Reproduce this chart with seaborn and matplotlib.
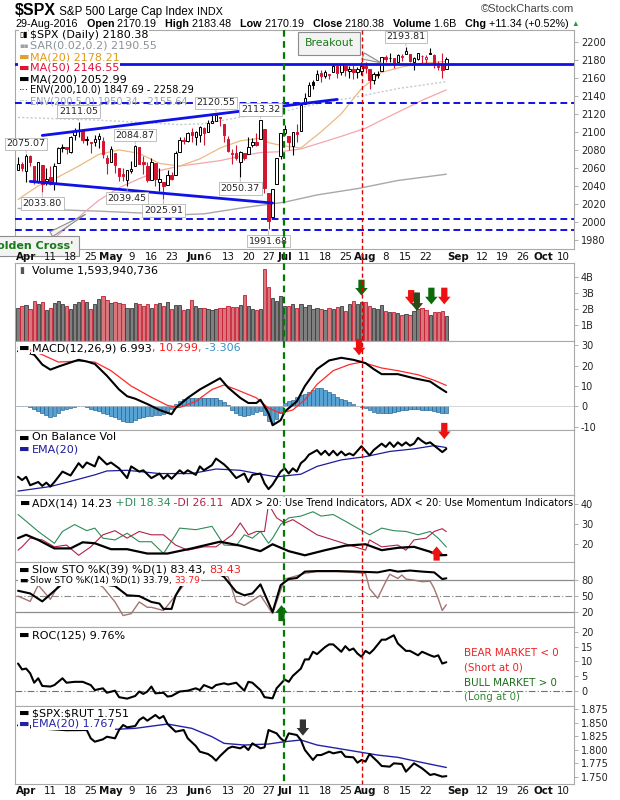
import numpy as np
import pandas as pd
import matplotlib
matplotlib.use("Agg")
import matplotlib.pyplot as plt
import matplotlib.transforms as mtransforms
from matplotlib.lines import Line2D
import seaborn as sns

# ---------------- data ----------------
first_session = "2016-03-30"
axis_end = "2016-10-14"
market_holidays = ["2016-05-30", "2016-07-04", "2016-09-05"]

close_before_first = 2055.01
opens = [2058, 2064, 2056.6, 2073, 2062, 2045, 2063, 2045, 2050, 2043,
         2065, 2082, 2083, 2078, 2096, 2101, 2102, 2091, 2089, 2089,
         2092, 2090, 2071, 2067, 2077, 2060, 2053, 2047, 2057, 2062,
         2083, 2067, 2062, 2047, 2065, 2044, 2044, 2041, 2052, 2052,
         2078, 2091, 2090, 2100, 2094, 2097, 2104, 2100, 2110, 2112,
         2116, 2109, 2092, 2077, 2077, 2066, 2077, 2075, 2085, 2089,
         2092, 2103, 2032, 2006, 2042, 2073, 2099, 2095, 2084, 2100,
         2101, 2131, 2140, 2155, 2157, 2165, 2162, 2163, 2166, 2173,
         2166, 2173, 2168, 2170, 2166, 2168, 2173, 2170, 2157, 2163,
         2168, 2183, 2182, 2182, 2177, 2183, 2186, 2186, 2177, 2181,
         2184, 2181, 2187, 2185, 2173, 2175, 2170.19]
highs = [2072, 2067, 2075.07, 2074, 2062, 2067, 2063, 2060, 2062, 2065,
         2083, 2087, 2083, 2095, 2104, 2111.05, 2103, 2095, 2089, 2097,
         2099, 2094, 2074, 2084, 2077, 2060, 2060, 2058, 2068, 2084.87,
         2083, 2073, 2067, 2071, 2065, 2060, 2044, 2058, 2055, 2079,
         2094, 2094, 2099.7, 2104, 2101, 2106, 2105, 2113, 2119, 2120.55,
         2117, 2109, 2095, 2081, 2085, 2079, 2077, 2094, 2093, 2099,
         2113.32, 2103, 2032, 2036.5, 2071, 2098.9, 2108, 2095, 2100, 2109,
         2131, 2143, 2155, 2157, 2169, 2169, 2169, 2164, 2175, 2174,
         2175.5, 2174, 2173, 2174, 2172, 2177, 2178, 2170, 2166, 2168,
         2183, 2185, 2187, 2182, 2186, 2186, 2193.81, 2186, 2183, 2188,
         2185, 2185, 2193, 2186, 2179, 2187, 2183.48]
lows = [2058, 2057, 2043.98, 2062, 2042.5, 2043, 2033.80, 2041, 2041, 2036,
        2065, 2078, 2075, 2076, 2091, 2094, 2088, 2085, 2077, 2084,
        2082, 2071, 2053, 2067, 2054, 2045, 2045, 2039.45, 2054, 2062,
        2064, 2053, 2044, 2047, 2040, 2034, 2025.91, 2041, 2047, 2052,
        2078, 2087, 2089, 2089, 2085, 2089, 2085, 2100, 2110, 2112,
        2107, 2089, 2078, 2064, 2069, 2050.37, 2069, 2075, 2083, 2084,
        2092, 2032, 1991.68, 2006, 2042, 2070, 2097, 2080, 2074, 2089,
        2101, 2131, 2140, 2148, 2157, 2155, 2160, 2159, 2166, 2160,
        2163, 2162, 2160, 2159, 2160, 2163, 2165, 2147, 2153, 2160,
        2168, 2177, 2178, 2171, 2177, 2179, 2186, 2178, 2169, 2180,
        2175, 2175, 2186, 2171, 2169, 2160, 2170.19]
closes = [2063.95, 2059.74, 2072.78, 2066.13, 2045.17, 2066.66, 2041.91, 2047.60, 2041.99, 2061.72,
          2082.42, 2082.78, 2080.73, 2094.34, 2100.80, 2102.40, 2091.48, 2091.58, 2087.79, 2091.70,
          2095.15, 2075.81, 2065.30, 2081.43, 2063.37, 2051.12, 2050.63, 2057.14, 2058.69, 2084.39,
          2064.46, 2064.11, 2046.61, 2066.66, 2047.21, 2047.63, 2040.04, 2052.32, 2048.04, 2076.06,
          2090.54, 2090.10, 2099.06, 2096.95, 2099.33, 2105.26, 2099.13, 2109.41, 2112.13, 2119.12,
          2115.48, 2096.07, 2079.06, 2075.32, 2071.50, 2077.99, 2071.22, 2083.25, 2088.90, 2085.45,
          2113.32, 2037.41, 2000.54, 2036.09, 2070.77, 2098.86, 2102.95, 2088.55, 2099.73, 2097.90,
          2129.90, 2137.16, 2152.14, 2152.43, 2163.75, 2161.74, 2166.89, 2163.78, 2173.02, 2165.17,
          2175.03, 2168.48, 2169.18, 2166.58, 2170.06, 2173.60, 2170.84, 2157.03, 2163.79, 2164.25,
          2182.87, 2180.89, 2181.74, 2175.49, 2185.79, 2184.05, 2190.15, 2178.15, 2182.22, 2187.02,
          2183.87, 2182.64, 2186.90, 2175.44, 2172.47, 2169.04, 2180.38]
volume_bn = [2.10, 2.20, 2.28, 1.98, 2.50, 2.30, 2.48, 1.95, 2.05, 2.40,
             2.50, 2.30, 2.20, 2.02, 2.35, 2.45, 2.55, 2.45, 2.02, 2.35,
             2.65, 2.85, 2.55, 2.40, 2.45, 2.40, 2.35, 2.10, 2.05, 2.40,
             2.30, 2.20, 2.30, 2.05, 2.35, 2.40, 2.20, 2.45, 2.00, 2.25,
             2.25, 1.95, 2.00, 2.60, 2.20, 2.05, 2.05, 2.00, 1.95, 2.00,
             2.05, 2.10, 2.20, 2.15, 2.15, 2.25, 2.90, 2.20, 2.00, 1.95,
             2.00, 4.55, 3.40, 2.70, 2.50, 2.85, 2.20, 2.20, 2.35, 2.10,
             2.30, 2.15, 2.25, 2.00, 2.10, 2.00, 1.95, 2.10, 2.00, 2.15,
             2.20, 1.90, 2.35, 2.50, 2.30, 2.45, 2.45, 2.20, 2.10, 2.00,
             2.25, 1.90, 1.80, 1.80, 1.75, 1.65, 1.70, 1.65, 1.90, 2.00,
             2.05, 1.95, 1.65, 1.80, 1.80, 1.90, 1.60]
macd_hist = [0.3, 0.2, 0.0, -0.5, -1.3, -2.3, -3.3, -4.2, -5.0, -4.6,
             -3.0, -1.8, -1.0, -0.6, -0.2, 0.3, 0.0, -0.5, -1.0, -1.5,
             -2.2, -3.0, -3.7, -4.5, -5.3, -6.0, -7.2, -7.5, -7.5, -6.8,
             -5.5, -5.0, -4.6, -4.5, -4.2, -4.0, -3.6, -3.0, -1.0, 1.0,
             2.5, 3.5, 4.0, 4.0, 4.0, 4.1, 4.0, 4.0, 4.1, 4.0,
             3.2, 2.0, 0.5, -1.5, -3.0, -4.3, -4.5, -4.3, -3.6, -2.8,
             -2.0, -4.0, -7.0, -8.0, -6.0, -3.0, 1.5, 2.5, 3.0, 4.5,
             5.5, 6.2, 7.0, 8.0, 9.0, 8.8, 8.0, 7.0, 6.0, 4.8,
             3.7, 3.0, 2.3, 1.0, 0.0, -0.4, -0.8, -1.8, -2.5, -3.0,
             -3.3, -3.2, -3.0, -2.5, -2.0, -1.8, -1.5, -1.3, -1.2, -1.4,
             -1.5, -1.5, -1.6, -2.2, -2.6, -3.1, -3.306]

ma20_pts = [(0, 2025), (5, 2040), (10, 2050), (15, 2062), (20, 2075), (25, 2080), (30, 2076),
            (35, 2065), (40, 2062), (45, 2070), (50, 2082), (55, 2090), (60, 2093), (62, 2088),
            (65, 2085), (70, 2082), (75, 2100), (80, 2120), (85, 2148), (90, 2166), (95, 2172),
            (100, 2176), (106, 2178.21)]
ma50_pts = [(0, 1975), (9, 1982), (17, 2013), (20, 2024), (25, 2038), (30, 2048), (35, 2057),
            (40, 2062), (45, 2065), (50, 2068), (55, 2073), (60, 2077), (65, 2078), (70, 2081),
            (75, 2088), (80, 2095), (86, 2104), (90, 2113), (95, 2124), (100, 2135), (106, 2146.55)]
ma200_pts = [(0, 2015), (20, 2012), (30, 2010), (40, 2008), (46, 2009), (56, 2016), (66, 2022),
             (74, 2030), (84, 2037), (94, 2046), (106, 2052.99)]
env5_upper_pts = [(0, 2116), (20, 2113), (40, 2108), (46, 2109), (56, 2117), (66, 2123),
                  (74, 2131), (84, 2139), (94, 2148), (106, 2155.64)]

macd_pts = [(0, 27), (2, 26.5), (4, 25.3), (6, 20.5), (8, 18), (10, 19.5), (13, 21.5), (15, 22.8),
            (17, 22), (19, 20.8), (22, 15), (25, 8.3), (27, 5), (29, 3.8), (32, 1.2), (35, -1.7),
            (38, -3.8), (39, -0.8), (42, 4.2), (45, 8.3), (47, 10.5), (50, 13.8), (52, 9.2),
            (55, 4.2), (57, 1.7), (59, 1.7), (60, 3.3), (62, -3.3), (63, -9.2), (65, -6.7),
            (66, -2.5), (69, 2.5), (71, 10), (74, 18.3), (77, 22.5), (80, 23.8), (83, 22.8),
            (86, 21.2), (88, 18.3), (90, 15.8), (94, 15.8), (98, 13.8), (102, 12.2), (104, 9.5),
            (106, 6.993)]
signal_pts = [(0, 28.5), (2, 28), (4, 27), (6, 25.3), (10, 21.7), (15, 22.2), (19, 21.7),
              (23, 17.5), (28, 10), (33, 4.5), (37, 0.5), (40, -0.5), (44, 2.5), (48, 8.3),
              (51, 10.5), (54, 8.3), (59, 4.2), (62, -0.8), (65, -3.3), (68, -1.7), (71, 3.3),
              (74, 10.8), (78, 17.5), (82, 20.5), (85, 21.7), (90, 18.8), (94, 17.5), (99, 15.5),
              (103, 12.8), (106, 10.299)]

obv_pts = [(0, 28), (1, 23), (2, 28), (3, 15), (5, 20), (6, 14), (7, 19), (8, 13), (9, 20),
           (11, 36), (13, 30), (15, 49), (16, 42), (17, 50), (19, 44), (20, 59), (22, 47),
           (23, 50), (25, 41), (27, 26), (28, 44), (30, 36), (31, 38), (33, 26), (35, 33),
           (36, 25), (37, 31), (38, 25), (40, 38), (41, 33), (42, 38), (44, 31), (45, 44),
           (46, 38), (48, 46), (49, 56), (51, 47), (52, 41), (54, 26), (56, 33), (57, 20),
           (58, 31), (60, 33), (61, 18), (62, 9), (63, 16), (64, 26), (65, 36), (66, 41),
           (67, 33), (68, 41), (69, 36), (70, 49), (71, 54), (72, 62), (74, 69), (75, 62),
           (76, 68), (77, 61), (78, 68), (79, 61), (80, 67), (81, 61), (82, 64), (83, 61),
           (84, 68), (85, 75), (87, 61), (88, 69), (90, 79), (91, 74), (92, 81), (93, 74),
           (94, 81), (95, 76), (96, 81), (97, 76), (98, 79), (99, 88), (100, 83), (101, 79),
           (102, 81), (103, 76), (104, 71), (105, 66), (106, 71)]
obv_ema_pts = [(0, 6), (8, 13), (13, 21), (19, 31), (22, 37), (27, 38), (35, 33), (43, 33),
               (49, 40), (55, 38), (60, 32), (64, 28), (70, 32), (74, 44), (80, 54), (86, 59),
               (92, 67), (98, 71), (103, 76), (106, 73)]

adx_pts = [(0, 22.8), (2, 24.5), (5, 21.9), (9, 17.6), (13, 17.6), (16, 20.7), (19, 20.2),
           (23, 17.2), (27, 17.2), (32, 15), (37, 15), (43, 17.6), (50, 21), (55, 19), (60, 16.2),
           (63, 19.7), (67, 16.2), (71, 14.1), (76, 16.7), (81, 19), (86, 19.7), (90, 16.7),
           (94, 17.9), (98, 18.4), (102, 15.9), (104, 14.1), (106, 14.23)]
plus_di_pts = [(0, 34.8), (2, 31.4), (5, 26.2), (9, 20.2), (11, 26.2), (14, 29.7), (17, 26.6),
               (19, 27.9), (21, 22.8), (24, 21.9), (27, 25.3), (30, 21), (33, 21), (36, 15),
               (39, 24.5), (40, 27.9), (44, 27.1), (48, 28.8), (51, 19.3), (54, 19), (56, 24.5),
               (58, 22.8), (60, 26.2), (62, 20.2), (63, 22.8), (65, 29.7), (67, 33.1), (70, 34),
               (73, 36.2), (75, 34), (78, 34.8), (81, 31.4), (84, 27.9), (87, 24.5), (90, 27.9),
               (93, 26.6), (96, 26.2), (99, 24.5), (102, 26.2), (104, 22.8), (106, 18.34)]
minus_di_pts = [(0, 16.7), (1, 18.4), (3, 22.8), (6, 21.9), (9, 18.4), (12, 19.3), (15, 14.1),
                (18, 18.4), (21, 24.5), (24, 26.6), (27, 22.8), (30, 26.2), (33, 24.5), (36, 24.5),
                (39, 19.3), (42, 16.7), (46, 18.4), (49, 18.4), (53, 24.5), (55, 30.5), (57, 24.5),
                (59, 26.2), (61, 26.2), (62, 40), (64, 33.1), (66, 30.5), (68, 32.2), (70, 29.7),
                (74, 24.5), (78, 21.9), (82, 19.3), (86, 16.7), (87, 21.9), (90, 18.4), (94, 19.3),
                (96, 16.7), (98, 21.9), (101, 22.8), (103, 26.2), (105, 27.6), (106, 26.11)]

sto39_pts = [(0, 60), (3, 55), (6, 40), (9, 60), (12, 80), (15, 92), (18, 85), (21, 72), (24, 69),
             (27, 51.5), (30, 50), (33, 39), (35, 36), (36, 26), (38, 26), (39, 51), (41, 77),
             (44, 90), (47, 92), (49, 95), (51, 86), (54, 58), (56, 51.5), (58, 55), (60, 72),
             (63, 20), (65, 70.5), (67, 82), (69, 84), (71, 96), (74, 97), (79, 97), (84, 96),
             (89, 94.5), (92, 99), (94, 96), (97, 98), (100, 96), (103, 94.5), (105, 82),
             (106, 83.43)]
sto14_pts = [(0, 50), (3, 40), (5, 70.5), (8, 44), (10, 70.5), (13, 85), (16, 90), (19, 75),
             (21, 67), (24, 39), (26, 13.5), (28, 17), (30, 39), (32, 29), (33, 29), (36, 23),
             (39, 51), (41, 70.5), (44, 90), (47, 95), (50, 92), (52, 86), (54, 39), (56, 32.5),
             (58, 42), (60, 51.5), (63, 17), (65, 61), (66, 82), (68, 86), (71, 92.7), (74, 96),
             (79, 96), (83, 94.5), (86, 92.7), (87, 64), (89, 46), (91, 77), (92, 91), (94, 83),
             (95, 89.5), (96, 82), (98, 80), (100, 77), (102, 78), (103, 64), (104, 45),
             (105, 23), (106, 33.79)]

roc_pts = [(0, 9.3), (1, 7.3), (2, 7.6), (3, 6.0), (4, 2.8), (5, 4.3), (6, 1.7), (8, 1.5),
           (9, 2.0), (11, 4.3), (12, 2.8), (14, 3.1), (16, 3.1), (18, 2.0), (19, 0.3), (21, 0.9),
           (22, -0.6), (24, 0.1), (25, -2.1), (27, -2.6), (29, -1.7), (30, -0.2), (31, -1.0),
           (32, -0.2), (33, 1.5), (34, -0.8), (36, -0.6), (37, -1.9), (38, -1.7), (40, -0.2),
           (42, 0.1), (44, 0.9), (45, 0.3), (46, 2.0), (48, 0.9), (49, 2.0), (51, 2.6), (52, 2.2),
           (54, 2.8), (56, 0.1), (57, 3.1), (58, 2.8), (60, 0.3), (61, -2.1), (63, -2.5), (64, 0.9),
           (66, 3.9), (67, 3.1), (68, 5.1), (70, 7.6), (71, 10.7), (72, 10.7), (73, 13.3),
           (74, 12.5), (76, 14.9), (77, 15.8), (78, 15.8), (80, 13.3), (81, 15.2), (82, 13.8),
           (83, 14.4), (84, 12.7), (85, 11.6), (86, 13.6), (87, 12.7), (88, 14.0), (90, 17.4),
           (91, 17.4), (93, 18.9), (94, 16.1), (96, 13.6), (97, 13.6), (99, 12.1), (100, 13.3),
           (102, 12.1), (103, 11.6), (104, 12.1), (105, 9.3), (106, 9.76)]

ratio_pts = [(0, 1.845), (4, 1.840), (8, 1.838), (12, 1.836), (17, 1.8364), (18, 1.821),
             (19, 1.8148), (21, 1.8191), (22, 1.824), (24, 1.821), (25, 1.8364), (26, 1.8457),
             (27, 1.8414), (29, 1.8438), (30, 1.855), (31, 1.8599), (32, 1.8537), (34, 1.8642),
             (35, 1.858), (36, 1.8623), (37, 1.8475), (39, 1.8333), (41, 1.8364), (42, 1.821),
             (44, 1.8068), (45, 1.7963), (47, 1.792), (48, 1.787), (49, 1.7796), (50, 1.7883),
             (52, 1.8025), (53, 1.8056), (55, 1.8025), (56, 1.8068), (57, 1.7994), (58, 1.8117),
             (60, 1.8025), (61, 1.8043), (62, 1.8364), (64, 1.8302), (65, 1.821), (66, 1.8148),
             (67, 1.8302), (69, 1.8272), (70, 1.8179), (71, 1.7994), (73, 1.7809), (74, 1.79),
             (75, 1.79), (77, 1.7963), (78, 1.7932), (80, 1.7963), (81, 1.787), (83, 1.7858),
             (84, 1.7759), (85, 1.7809), (86, 1.7778), (87, 1.792), (89, 1.7778), (90, 1.7698),
             (92, 1.7685), (93, 1.7747), (95, 1.7735), (96, 1.7593), (98, 1.7747), (100, 1.7654),
             (101, 1.7593), (102, 1.7531), (103, 1.7549), (105, 1.75), (106, 1.751)]
ratio_ema_pts = [(0, 1.845), (10, 1.843), (19, 1.8426), (24, 1.8377), (29, 1.8395), (37, 1.8475),
                 (43, 1.8395), (48, 1.824), (51, 1.8117), (56, 1.8086), (62, 1.8105), (66, 1.8148),
                 (70, 1.8179), (74, 1.8086), (79, 1.8025), (84, 1.7963), (89, 1.79), (94, 1.7858),
                 (99, 1.7778), (103, 1.7716), (106, 1.767)]

peak_days = [2, 15, 29, 49, 60, 96]
trough_days = [6, 27, 36, 55, 62]
hline_prices = [2175, 2132, 2003, 1991.5]
hline_dashed = [False, True, True, True]
trend_up_days, trend_up_prices = [6, 79], [2096, 2136]
trend_dn_days, trend_dn_prices = [3, 63], [2045, 2021]
event_days = [65.8, 85.2]
event_colors = ["#007a00", "#e00000"]

# signal arrows: panel, day, tail value, tip value, colour
arrow_panel = ["vol", "vol", "vol", "vol", "vol", "macd", "obv", "adx", "sto", "ratio"]
arrow_day = [85, 97.3, 98.7, 102.3, 105.5, 84.4, 105.5, 103.6, 65.2, 70.5]
arrow_tail = [3.85, 3.2, 3.05, 3.35, 3.35, 33.0, 111, 11.4, 3.0, 1.856]
arrow_tip = [2.85, 2.3, 1.9, 2.3, 2.3, 25.0, 86, 18.6, 33.0, 1.826]
arrow_color = ["#0b6b0b", "#ee1111", "#2a4a1a", "#0b6b0b", "#ee1111", "#ee1111",
               "#ee1111", "#ee1111", "#0b6b0b", "#333333"]

# ---------------- figure ----------------
sns.set_theme(style="white")
plt.rcParams["font.family"] = ["DejaVu Sans"]
plt.rcParams["axes.unicode_minus"] = False

W, H = 620, 800
fig = plt.figure(figsize=(W / 100, H / 100), dpi=100)
fig.patch.set_facecolor("white")


def fx(px):
    return px / W


def fy(py):
    return 1 - py / H


LEFT, RIGHT = 15, 574
RED = "#d3162f"
TFS = 7.0     # tick labels
LFS = 8.0     # panel legends


def make_panel(top, bottom, share=None):
    ax = fig.add_axes([fx(LEFT), fy(bottom), (RIGHT - LEFT) / W, (bottom - top) / H], sharex=share)
    ax.set_facecolor("white")
    for sp in ax.spines.values():
        sp.set_color("#a9a9a9")
        sp.set_linewidth(0.8)
    ax.yaxis.tick_right()
    ax.tick_params(axis="y", labelsize=TFS, length=3, width=0.6, color="#a0a0a0", pad=2,
                   labelcolor="#222222", right=True, left=False)
    ax.tick_params(axis="x", bottom=False, labelbottom=False)
    ax.grid(False)
    return ax


def line(ax, pts, color, lw, **kw):
    d, v = zip(*pts)
    sns.lineplot(x=list(d), y=list(v), ax=ax, color=color, linewidth=lw, legend=False, **kw)


ax_p = make_panel(30, 249)
ax_v = make_panel(263, 341, ax_p)
ax_m = make_panel(341, 430, ax_p)
ax_o = make_panel(430, 495, ax_p)
ax_a = make_panel(495, 562, ax_p)
ax_s = make_panel(562, 627, ax_p)
ax_r = make_panel(627, 706, ax_p)
ax_q = make_panel(706, 784, ax_p)
panels = {"vol": ax_v, "macd": ax_m, "obv": ax_o, "adx": ax_a, "sto": ax_s, "ratio": ax_q}

days = np.arange(len(closes))
prev = [close_before_first] + closes[:-1]
up_day = [c >= p for c, p in zip(closes, prev)]

# ---- price panel ----
line(ax_p, env5_upper_pts, "#c4cad2", 1.0, linestyle=(0, (1.5, 1.5)))
line(ax_p, ma200_pts, "#a8a8a8", 1.0)
line(ax_p, ma50_pts, "#f2a6ae", 0.9)
line(ax_p, ma20_pts, "#eabb80", 0.9)
cols = ["#000000" if u else RED for u in up_day]
faces = ["white" if c >= o else col for o, c, col in zip(opens, closes, cols)]
body_lo = [min(o, c) for o, c in zip(opens, closes)]
body_h = [max(abs(c - o), 0.5) for o, c in zip(opens, closes)]
ax_p.vlines(days, lows, highs, colors=cols, lw=0.8, zorder=3)
ax_p.bar(days, body_h, bottom=body_lo, width=0.62, color=faces, edgecolor=cols, linewidth=0.7, zorder=4)
for pr, dashed in zip(hline_prices, hline_dashed):
    ax_p.axhline(pr, color="#1010e8", lw=1.4 if dashed else 2.0,
                 linestyle=(0, (3.5, 2)) if dashed else "-", zorder=5)
sns.lineplot(x=trend_up_days, y=trend_up_prices, ax=ax_p, color="#1010e8", linewidth=2.0, zorder=5)
sns.lineplot(x=trend_dn_days, y=trend_dn_prices, ax=ax_p, color="#1010e8", linewidth=2.0, zorder=5)
ax_p.set_ylim(1970, 2213)
ax_p.set_yticks(range(1980, 2201, 20))

lab_box = dict(boxstyle="square,pad=0.18", fc="white", ec="#b4b4b4", lw=0.6)
for d in peak_days:
    ax_p.annotate(f"{highs[d]:.2f}", xy=(d, highs[d]), xytext=(0, 7.5), textcoords="offset points",
                  ha="center", va="center", fontsize=6.8, bbox=lab_box, zorder=6,
                  arrowprops=dict(arrowstyle="-", color="#b4b4b4", lw=0.6, shrinkA=0, shrinkB=1))
for d in trough_days:
    ax_p.annotate(f"{lows[d]:.2f}", xy=(d, lows[d]), xytext=(0, -8.5), textcoords="offset points",
                  ha="center", va="center", fontsize=6.8, bbox=lab_box, zorder=6,
                  arrowprops=dict(arrowstyle="-", color="#b4b4b4", lw=0.6, shrinkA=0, shrinkB=1))

ax_p.annotate("Breakout", xy=(90.5, 2175.5), xytext=(77.0, 2198.5), textcoords="data",
              ha="center", va="center", fontsize=7.8, color="#167a16", zorder=7,
              bbox=dict(boxstyle="square,pad=0.6", fc="#f3f3f3", ec="#8c8c8c", lw=0.8),
              arrowprops=dict(arrowstyle="wedge,tail_width=0.6,shrink_factor=0.5", fc="#f3f3f3",
                              ec="#8c8c8c", lw=0.8))
ax_p.annotate("Golden Cross'", xy=(17.3, 2010), xytext=(31, H - 246), textcoords="figure pixels",
              ha="center", va="center", fontsize=8.0, fontweight="bold", color="#167a16", zorder=7,
              annotation_clip=False,
              bbox=dict(boxstyle="square,pad=0.45", fc="#f3f3f3", ec="#8c8c8c", lw=0.8),
              arrowprops=dict(arrowstyle="wedge,tail_width=0.5,shrink_factor=0.5", fc="#f3f3f3",
                              ec="#8c8c8c", lw=0.8))

# ---- volume ----
vface = ["#7f7f7f" if u else "#d9767c" for u in up_day]
vedge = ["#3c3c3c" if u else "#c41c34" for u in up_day]
ax_v.bar(days, volume_bn, width=0.82, color=vface, edgecolor=vedge, linewidth=0.6)
ax_v.set_ylim(0, 4.9)
ax_v.set_yticks([1, 2, 3, 4])
ax_v.set_yticklabels(["1B", "2B", "3B", "4B"])

# ---- MACD ----
ax_m.bar(days, macd_hist, width=0.92, color="#56a3d4", edgecolor="#1f5f8e", linewidth=0.45)
ax_m.axhline(0, color="#c8c8c8", lw=0.5)
line(ax_m, signal_pts, "#ff2a2a", 0.9)
line(ax_m, macd_pts, "#000000", 1.5)
ax_m.set_ylim(-11.5, 32)
ax_m.set_yticks([-10, 0, 10, 20, 30])

# ---- OBV ----
line(ax_o, obv_ema_pts, "#1c1c9c", 0.9)
line(ax_o, obv_pts, "#000000", 1.5)
ax_o.set_ylim(0, 100)
ax_o.set_yticks([])

# ---- ADX ----
line(ax_a, plus_di_pts, "#2e8b57", 0.8)
line(ax_a, minus_di_pts, "#b22248", 0.8)
line(ax_a, adx_pts, "#000000", 1.6)
ax_a.set_ylim(10.7, 44.7)
ax_a.set_yticks([20, 30, 40])

# ---- Stochastics ----
for lvl in (80, 20):
    ax_s.axhline(lvl, color="#8c8c8c", lw=0.9)
ax_s.axhline(50, color="#8c8c8c", lw=0.8, linestyle=(0, (6, 2, 1, 2)))
line(ax_s, sto14_pts, "#a47572", 1.0)
line(ax_s, sto39_pts, "#000000", 1.5)
ax_s.set_ylim(-8, 114)
ax_s.set_yticks([20, 50, 80])

# ---- ROC ----
ax_r.axhline(0, color="#707070", lw=0.8, linestyle=(0, (6, 2, 1, 2)))
line(ax_r, roc_pts, "#000000", 1.5)
ax_r.set_ylim(-5.1, 21.7)
ax_r.set_yticks([0, 5, 10, 15, 20])

# ---- SPX:RUT ----
line(ax_q, ratio_ema_pts, "#2222a8", 1.0)
line(ax_q, ratio_pts, "#000000", 1.5)
ax_q.set_ylim(1.7364, 1.8809)
qt = [1.75, 1.775, 1.8, 1.825, 1.85, 1.875]
ax_q.set_yticks(qt)
ax_q.set_yticklabels([f"{v:.3f}" for v in qt])

for ax in [ax_p, ax_v, ax_m, ax_o, ax_a, ax_s, ax_r, ax_q]:
    ax.set_xlabel("")
    ax.set_ylabel("")
ax_p.set_xlim(-0.75, 137.6)

# signal arrows
for pn, d, t0, t1, c in zip(arrow_panel, arrow_day, arrow_tail, arrow_tip, arrow_color):
    panels[pn].annotate("", xy=(d, t1), xytext=(d, t0), textcoords="data", annotation_clip=False,
                        zorder=8,
                        arrowprops=dict(arrowstyle="simple,head_length=0.55,head_width=0.9,tail_width=0.45",
                                        mutation_scale=10, fc=c, ec="none", shrinkA=0, shrinkB=0,
                                        clip_on=False))

# event lines through every panel
tr = mtransforms.blended_transform_factory(ax_p.transData, fig.transFigure)
for d, c in zip(event_days, event_colors):
    fig.add_artist(Line2D([d, d], [fy(30), fy(784)], transform=tr, color=c,
                          lw=1.6 if c == "#007a00" else 1.0,
                          linestyle=(0, (3, 2)), zorder=4))

# date labels: month name on first session, day number on Mondays not crowding a month label
sessions = pd.bdate_range(first_session, axis_end, freq="C", holidays=market_holidays)
month_idx = [i for i in range(1, len(sessions)) if sessions[i].month != sessions[i - 1].month]
tick_days, tick_labels, tick_bold = [], [], []
for i, d in enumerate(sessions):
    if i in month_idx:
        tick_days.append(i); tick_labels.append(d.strftime("%b")); tick_bold.append(True)
    elif d.weekday() == 0 and not any(0 < m - i <= 3 or 0 < i - m <= 1 for m in month_idx):
        tick_days.append(i); tick_labels.append(str(d.day)); tick_bold.append(False)
for t, lab, b in zip(tick_days, tick_labels, tick_bold):
    for yy in (256.5, 791):
        fig.text(t, fy(yy), lab, transform=tr, ha="center", va="center", fontsize=7.4,
                 fontweight="bold" if b else "normal", color="#111111", parse_math=False, zorder=3)

# ---------------- text ----------------
renderer = fig.canvas.get_renderer()


def rainbow(x_px, y_px, parts, size=LFS, box=True, va="center", family=None):
    t = fig.transFigure
    x, y = fx(x_px), fy(y_px)
    for part in parts:
        s, c = part[0], part[1]
        w = part[2] if len(part) > 2 else "normal"
        sz = part[3] if len(part) > 3 else size
        kw = dict(color=c, fontsize=sz, fontweight=w, va=va, ha="left", transform=t,
                  parse_math=False, zorder=6)
        if family:
            kw["family"] = family
        if box:
            kw["bbox"] = dict(boxstyle="square,pad=0.06", fc="white", ec="none")
        txt = fig.text(x, y, s, **kw)
        txt.draw(renderer)
        ex = txt.get_window_extent(renderer)
        t = mtransforms.offset_copy(txt.get_transform(), fig=fig, x=ex.width, units="dots")


def legend_row(y_px, icon, icon_color, parts, x_text=32, size=LFS, box=True, icon_size=None):
    fig.text(fx(19), fy(y_px), icon, color=icon_color, fontsize=icon_size or size, va="center",
             ha="left", parse_math=False, zorder=6,
             bbox=dict(boxstyle="square,pad=0.06", fc="white", ec="none") if box else None)
    rainbow(x_text, y_px, parts, size=size, box=box)


K = "#000000"
HEAD = ["Liberation Sans", "DejaVu Sans"]
rainbow(15, 15, [("$SPX", K, "bold", 11.5), (" S&P 500 Large Cap Index", K, "normal", 8.3),
                 (" INDX", K, "normal", 7.8)], box=False, va="baseline", family=HEAD)
fig.text(fx(574), fy(9.5), "©StockCharts.com", ha="right", va="center", fontsize=8.0,
         color="#444444", family=HEAD, parse_math=False)
rainbow(15, 24, [("29-Aug-2016", K), ("   Open", K, "bold"), (" 2170.19", K), ("   High", K, "bold"),
                 (" 2183.48", K), ("   Low", K, "bold"), (" 2170.19", K), ("   Close", K, "bold"),
                 (" 2180.38", K), ("   Volume", K, "bold"), (" 1.6B", K), ("   Chg", K, "bold"),
                 (" +11.34 (+0.52%) ", K), ("▲", "#1f9a3a", "normal", 5.5)],
        size=7.75, box=False, family=HEAD)

DASH = "▬"
legend_row(35, "▯▮", K, [("$SPX (Daily) 2180.38", K)], x_text=30, icon_size=5.5)
legend_row(46, "▪▪", "#9aa2aa", [("SAR(0.02,0.2) 2190.55", "#8a9299")], x_text=30, icon_size=5.0)
legend_row(57, DASH, "#e0a030", [("MA(20) 2178.21", "#e09a20")], x_text=30)
legend_row(68, DASH, "#e0103a", [("MA(50) 2146.55", "#e0103a")], x_text=30)
legend_row(79, DASH, K, [("MA(200) 2052.99", K)], x_text=30)
legend_row(90, "···", K, [("ENV(200,10.0) 1847.69 - 2258.29", K)], x_text=30, size=7.0, icon_size=7.5)
legend_row(101, "···", "#9aa2aa", [("ENV(200,5.0) 1950.34 - 2155.64", "#9aa2aa")], x_text=30,
           box=False, size=7.0, icon_size=7.5)

legend_row(271, "▮", "#555555", [("Volume 1,593,940,736", K)], icon_size=6.5)
legend_row(348, DASH, K, [("MACD(12,26,9) 6.993", K), (", 10.299", "#ff1a1a"), (", -3.306", "#3a8fc8")])
legend_row(437.5, DASH, K, [("On Balance Vol", K)])
legend_row(449, DASH, "#1c1c9c", [("EMA(20)", "#1c1c9c")])
legend_row(503, DASH, K, [("ADX(14) 14.23", K), (" +DI 18.34", "#2e8b57"), (" -DI 26.11", "#b22248")],
           size=7.8)
fig.text(fx(573), fy(503), "ADX > 20: Use Trend Indicators, ADX < 20: Use Momentum Indicators",
         ha="right", va="center", fontsize=7.0, color=K, parse_math=False, zorder=6,
         bbox=dict(boxstyle="square,pad=0.06", fc="white", ec="none"))
legend_row(570, DASH, K, [("Slow STO %K(39) %D(1) 83.43, ", K), ("83.43", "#ff1a1a")])
legend_row(580.5, DASH, K, [("Slow STO %K(14) %D(1) 33.79, ", K), ("33.79", "#ff1a1a")],
           x_text=30, size=6.6)
legend_row(635, DASH, K, [("ROC(125) 9.76%", K)])
legend_row(713, DASH, K, [("$SPX:$RUT 1.751", K)])
legend_row(724, DASH, "#2222a8", [("EMA(20) 1.767", "#2222a8")])

for txt, yy, c in [("BEAR MARKET < 0", 653, "#ee2222"), ("(Short at 0)", 667, "#ee2222"),
                   ("BULL MARKET > 0", 683, "#1a6e1a"), ("(Long at 0)", 697, "#2f8a2f")]:
    fig.text(fx(464), fy(yy), txt, ha="left", va="center", fontsize=7.4, color=c, parse_math=False)

fig.savefig("out.png", dpi=100, facecolor="white")
